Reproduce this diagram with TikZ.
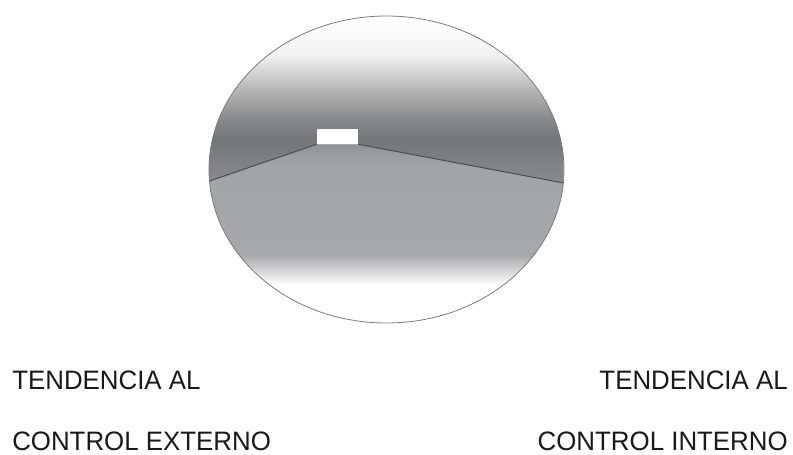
\documentclass[tikz,border=0pt]{standalone}
\usepackage{fontspec}
\setmainfont{Liberation Sans}
\newfontfamily\narrowfont[FakeStretch=0.97]{Liberation Sans}
\usetikzlibrary{positioning,backgrounds,calc}
\definecolor{rim}{HTML}{7C7C7C}
\definecolor{ridgeink}{HTML}{4A4D50}
\definecolor{haze}{HTML}{F2F2F2}
\definecolor{fog}{HTML}{B4B5B6}
\definecolor{dusk}{HTML}{85888B}
\definecolor{deep}{HTML}{74777A}
\definecolor{shore}{HTML}{8C8F92}
\definecolor{flat}{HTML}{909396}
\definecolor{plain}{HTML}{A2A5A8}
\definecolor{plain2}{HTML}{A6A9AB}
\tikzset{
  bowl/.style={draw=rim, line width=0.6pt},
  slot/.style={rectangle, fill=white, draw=none, inner sep=0pt,
               minimum width=30.75pt, minimum height=11.25pt},
  ridge/.style={draw=ridgeink, line width=0.75pt},
  caption/.style={font=\narrowfont\fontsize{20}{24}\selectfont, inner sep=0pt, text=black!90},
}

\begin{document}
\begin{tikzpicture}[x=0.75pt, y=0.75pt]
\useasboundingbox (0,0) rectangle (793,454);

% --- lens ---------------------------------------------------------------
\coordinate (ctr) at (386.5,284.5);
\coordinate (lft) at (209.5,273);
\coordinate (rgt) at (563.5,271);
\node[slot] (gap) at (337.5,317.5) {};

\begin{scope}[on background layer]
  \clip (ctr) ellipse [x radius=177.5, y radius=153.5];
  \fill[white] (200,125) rectangle (575,445);
  % upper part, above the ridge
  \begin{scope}
    \clip (lft) -- (gap.south west) -- (gap.south east) -- (rgt)
          -- (rgt |- 0,450) -- (lft |- 0,450) -- cycle;
    \shade[top color=white, bottom color=haze] (200,438) rectangle (575,399);
    \shade[top color=haze, bottom color=fog] (200,399) rectangle (575,364);
    \shade[top color=fog, bottom color=dusk] (200,364) rectangle (575,334);
    \shade[top color=dusk, bottom color=deep] (200,334) rectangle (575,314);
    \shade[top color=deep, bottom color=shore] (200,314) rectangle (575,265);
  \end{scope}
  % lower part, below the ridge
  \begin{scope}
    \clip (lft) -- (gap.south west) -- (gap.south east) -- (rgt)
          -- (rgt |- 0,125) -- (lft |- 0,125) -- cycle;
    \shade[top color=flat, bottom color=plain] (200,312) rectangle (575,289);
    \shade[top color=plain, bottom color=plain2] (200,289) rectangle (575,199);
    \shade[top color=plain2, bottom color=white] (200,199) rectangle (575,169);
  \end{scope}
\end{scope}

\draw[ridge] (lft) -- (gap.south west);
\draw[ridge] (gap.south east) -- (rgt);
\draw[bowl] (ctr) ellipse [x radius=177.5, y radius=153.5];

% --- captions -----------------------------------------------------------
\node[caption, anchor=base west] (extA) at (12,65) {TENDENCIA AL};
\node[caption, anchor=base west] (extB) at (12,4) {CONTROL EXTERNO};
\node[caption, anchor=base east] (intA) at (788,65) {TENDENCIA AL};
\node[caption, anchor=base east] (intB) at (788,4) {CONTROL INTERNO};
\end{tikzpicture}
\end{document}
